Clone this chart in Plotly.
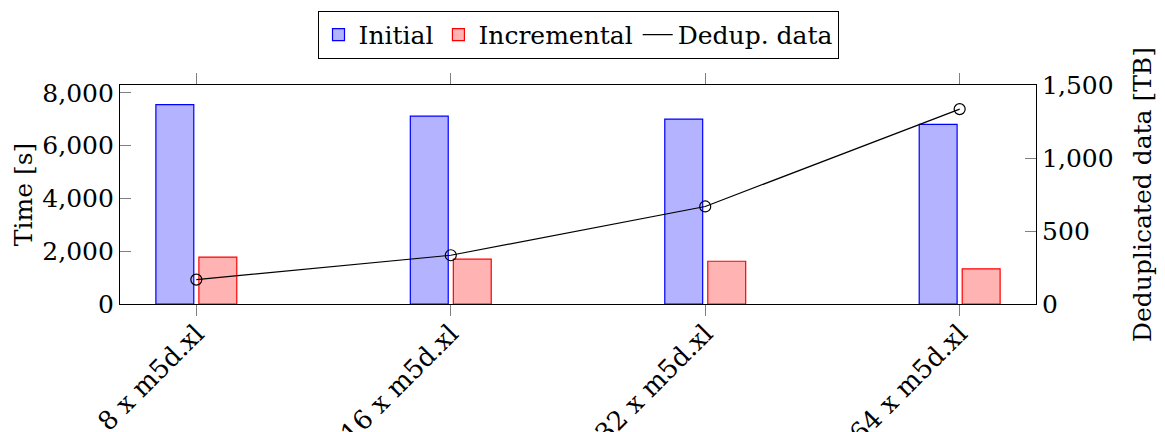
import plotly.graph_objects as go

# Cluster configurations
clusters = ["8 x m5d.xl", "16 x m5d.xl", "32 x m5d.xl", "64 x m5d.xl"]

# Run times in seconds
initial_time = [7560, 7120, 7010, 6810]
incremental_time = [1780, 1700, 1620, 1335]

# Deduplicated data volume in TB
dedup_tb = [167, 334, 668, 1335]

# Tick settings
time_ticks = [0, 2000, 4000, 6000, 8000]
tb_ticks = [0, 500, 1000, 1500]

FONT = "'DejaVu Serif', 'Liberation Serif', serif"
FS = 25
xpos = list(range(len(clusters)))

fig = go.Figure()

fig.add_trace(go.Bar(
    x=xpos, y=initial_time, name="Initial",
    width=0.149, offset=-0.159,
    marker=dict(color="rgb(179,179,255)", line=dict(color="blue", width=1.2)),
))
fig.add_trace(go.Bar(
    x=xpos, y=incremental_time, name="Incremental",
    width=0.149, offset=0.010,
    marker=dict(color="rgb(255,179,179)", line=dict(color="red", width=1.2)),
))
fig.add_trace(go.Scatter(
    x=xpos, y=dedup_tb, yaxis="y2", mode="lines+markers",
    name="Dedup. data", showlegend=False,
    line=dict(color="black", width=1.2),
    marker=dict(symbol="circle-open", size=11, color="black", line=dict(width=1.2)),
))
# legend entry for the line (line only, no marker)
fig.add_trace(go.Scatter(
    x=[None], y=[None], yaxis="y2", mode="lines", name="Dedup. data",
    line=dict(color="black", width=1.2),
))

fig.update_layout(
    width=1165, height=432,
    margin=dict(l=120, r=129, t=84, b=128),
    paper_bgcolor="white", plot_bgcolor="white",
    font=dict(family=FONT, size=FS, color="black"),
    barmode="overlay",
    showlegend=True,
    legend=dict(
        orientation="h", x=0.5, xanchor="center", y=1.332, yanchor="top",
        bordercolor="black", borderwidth=1, bgcolor="white",
        font=dict(family=FONT, size=FS), itemwidth=30,
        tracegroupgap=0,
    ),
    xaxis=dict(
        range=[-0.3, 3.3], tickmode="array", tickvals=xpos, ticktext=clusters,
        tickangle=-45, ticks="outside", ticklen=11, tickcolor="gray",
        ticklabelstandoff=-8,
        showline=True, linecolor="black", linewidth=1.2, mirror="ticks",
        showgrid=False, zeroline=False, automargin=False,
        tickfont=dict(family=FONT, size=26),
    ),
    yaxis=dict(
        range=[0, 8300], tickmode="array", tickvals=time_ticks, tickformat=",d",
        ticks="inside", ticklen=11, tickcolor="gray",
        showline=True, linecolor="black", linewidth=1.2,
        showgrid=False, zeroline=False, automargin=False,
        title=dict(text="Time [s]", standoff=2, font=dict(family=FONT, size=FS)),
        tickfont=dict(family=FONT, size=FS),
    ),
    yaxis2=dict(
        overlaying="y", side="right",
        range=[0, 1500], tickmode="array", tickvals=tb_ticks, tickformat=",d",
        ticks="inside", ticklen=11, tickcolor="gray",
        showline=True, linecolor="black", linewidth=1.2,
        showgrid=False, zeroline=False, automargin=False,
        title=dict(text="Deduplicated data [TB]", standoff=20, font=dict(family=FONT, size=FS)),
        tickfont=dict(family=FONT, size=FS),
    ),
)

fig.write_html("out.html")
